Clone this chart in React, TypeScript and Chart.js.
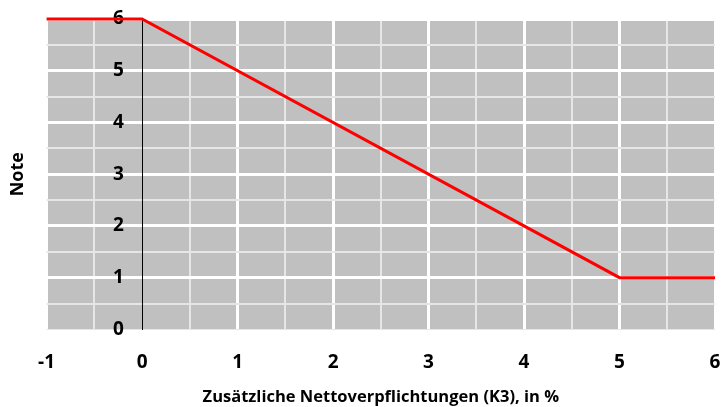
import React, { useEffect, useRef } from "react";
import { Chart, registerables } from "chart.js";

Chart.register(...registerables);

const xValues = [-1, 0, 5, 6];
const noteValues = [6, 6, 1, 1];
const xTitle = "Zusätzliche Nettoverpflichtungen (K3), in %";
const yTitle = "Note";

const FONT = "'Open Sans', 'Noto Sans', sans-serif";

const bgPlugin = {
  id: "plotBg",
  beforeDraw(chart: any) {
    const { ctx, chartArea } = chart;
    ctx.save();
    ctx.fillStyle = "#c0c0c0";
    ctx.fillRect(chartArea.left, chartArea.top, chartArea.right - chartArea.left, chartArea.bottom - chartArea.top);
    ctx.restore();
  },
};

const isInt = (v: number) => Math.abs(v - Math.round(v)) < 1e-6;
const gridColor = (c: any) => {
  const v = c.tick?.value;
  if (v === 0) return "rgba(0,0,0,0)";
  return isInt(v) ? "#ffffff" : "#e6e6e6";
};
const gridWidth = (c: any) => (isInt(c.tick?.value) ? 3 : 2);

export default function App() {
  const ref = useRef<HTMLCanvasElement>(null);
  useEffect(() => {
    if (!ref.current) return;
    const chart = new Chart(ref.current, {
      type: "line",
      data: {
        datasets: [
          {
            data: xValues.map((x, i) => ({ x, y: noteValues[i] })),
            borderColor: "#ff0000",
            borderWidth: 3,
            pointRadius: 0,
            fill: false,
            tension: 0,
            clip: 6,
          } as any,
        ],
      },
      plugins: [bgPlugin],
      options: {
        animation: false,
        responsive: false,
        maintainAspectRatio: false,
        layout: { padding: { top: 19, right: 8, bottom: 0, left: 0 } },
        plugins: { legend: { display: false }, tooltip: { enabled: false } },
        scales: {
          x: {
            type: "linear",
            min: -1,
            max: 6,
            ticks: {
              stepSize: 0.5,
              autoSkip: false,
              maxRotation: 0,
              padding: 0,
              color: "#000",
              font: { family: FONT, size: 19, weight: "bold" },
              callback: (v: any) => (isInt(Number(v)) ? String(v) : ""),
            },
            grid: {
              drawTicks: true,
              tickLength: 22,
              tickColor: "rgba(0,0,0,0)",
              color: gridColor,
              lineWidth: gridWidth,
            },
            border: { display: false },
            title: {
              display: true,
              text: xTitle,
              color: "#000",
              font: { family: FONT, size: 16.5, weight: "bold" },
              padding: { top: 13, bottom: 0 },
            },
          },
          y: {
            type: "linear",
            position: { x: -0.19 } as any,
            min: 0,
            max: 6,
            ticks: {
              stepSize: 0.5,
              autoSkip: false,
              padding: 0,
              color: "#000",
              font: { family: FONT, size: 19, weight: "bold" },
              callback: (v: any) => (isInt(Number(v)) ? String(v) : ""),
            },
            grid: {
              drawTicks: false,
              color: gridColor,
              lineWidth: gridWidth,
            },
            border: { display: false },
          },
          yZero: {
            type: "linear",
            position: { x: 0 } as any,
            min: 0,
            max: 6,
            ticks: { display: false },
            grid: { display: false, drawTicks: false },
            border: { display: true, color: "#000", width: 1 },
          },
          yTitleAxis: {
            type: "linear",
            position: "left",
            min: 0,
            max: 6,
            ticks: { display: false },
            grid: { display: false, drawTicks: false },
            border: { display: false },
            title: {
              display: true,
              text: yTitle,
              color: "#000",
              font: { family: FONT, size: 18, weight: "bold" },
              padding: { top: 7, bottom: 18 },
            },
          },
        },
      } as any,
    });
    return () => chart.destroy();
  }, []);
  return (
    <div style={{ position: "fixed", left: 0, top: 0, width: 723, height: 407, background: "#fff" }}>
      <canvas ref={ref} width={723} height={407} style={{ width: 723, height: 407 }} />
    </div>
  );
}
